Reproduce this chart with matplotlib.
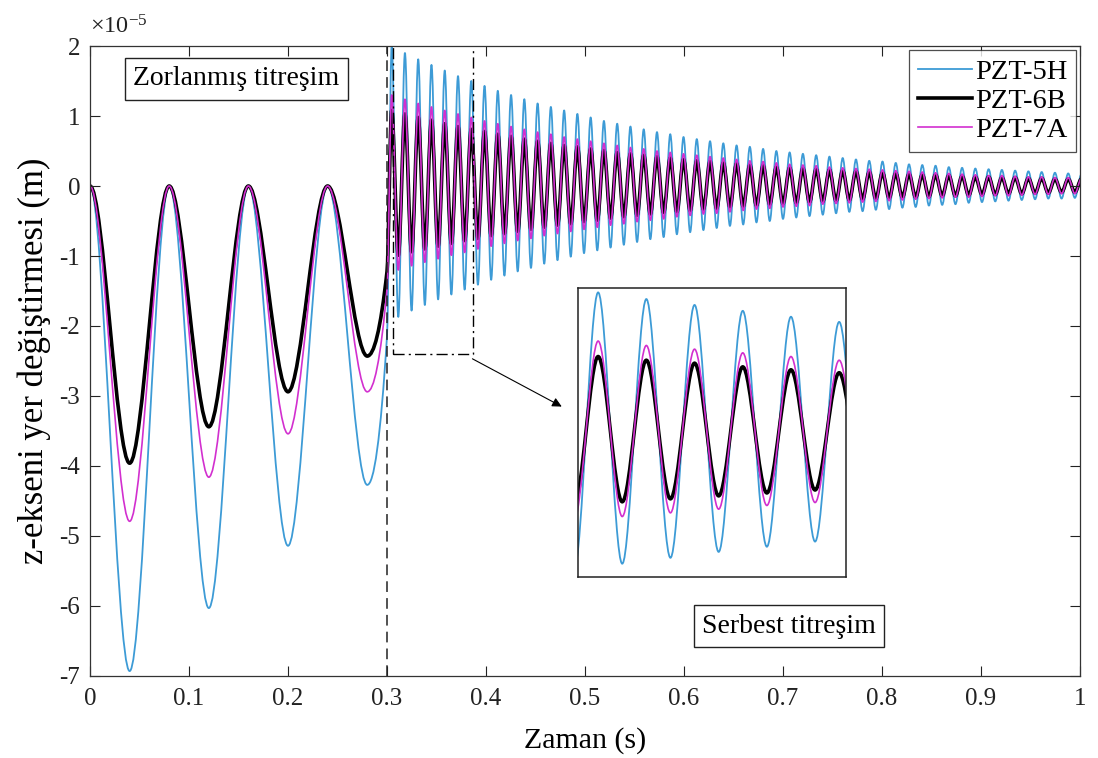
import numpy as np
import matplotlib
matplotlib.use('Agg')
import matplotlib.pyplot as plt
from matplotlib.path import Path
from matplotlib.patches import PathPatch, Rectangle
from matplotlib.lines import Line2D
from matplotlib.ticker import FuncFormatter

plt.rcParams['font.family'] = ['Liberation Serif', 'DejaVu Serif']
plt.rcParams['mathtext.fontset'] = 'custom'
plt.rcParams['mathtext.rm'] = 'Liberation Serif'
plt.rcParams['axes.unicode_minus'] = False

UNIT = 1e-5  # displacement values below are in 1e-5 m

# forced vibration: turning points (s, x1e-5 m), ends at t = 0.3 s
forced_t = [0.0, 0.04, 0.08, 0.12, 0.16, 0.20, 0.24, 0.28, 0.30]
forced_5h = [0, -6.93, 0, -6.03, 0, -5.14, 0, -4.27, -2.14]
forced_6b = [0, -3.96, 0, -3.44, 0, -2.94, 0, -2.43, -1.22]
forced_7a = [0, -4.79, 0, -4.16, 0, -3.54, 0, -2.94, -1.47]

# free vibration: successive crest / trough values
free_first_peak = 0.3047
free_period = 0.0134

peaks_5h = [1.99, 1.90, 1.81, 1.73, 1.65, 1.57, 1.50, 1.43, 1.36, 1.30,
            1.24, 1.18, 1.13, 1.08, 1.03, 0.98, 0.93, 0.89, 0.85, 0.81,
            0.77, 0.74, 0.70, 0.67, 0.64, 0.61, 0.58, 0.56, 0.53, 0.50,
            0.48, 0.46, 0.44, 0.42, 0.40, 0.38, 0.36, 0.35, 0.33, 0.31,
            0.30, 0.29, 0.27, 0.26, 0.25, 0.24, 0.23, 0.22, 0.21, 0.20,
            0.19, 0.18, 0.17]
troughs_5h = [-1.87, -1.78, -1.70, -1.62, -1.55, -1.48, -1.41, -1.34, -1.28, -1.22,
              -1.17, -1.11, -1.06, -1.01, -0.96, -0.92, -0.88, -0.84, -0.80, -0.76,
              -0.73, -0.69, -0.66, -0.63, -0.60, -0.57, -0.55, -0.52, -0.50, -0.47,
              -0.45, -0.43, -0.41, -0.39, -0.37, -0.36, -0.34, -0.33, -0.31, -0.30,
              -0.28, -0.27, -0.26, -0.24, -0.23, -0.22, -0.21, -0.20, -0.19, -0.18,
              -0.18, -0.17]

peaks_6b = [1.08, 1.03, 0.98, 0.94, 0.89, 0.85, 0.81, 0.78, 0.74, 0.71,
            0.67, 0.64, 0.61, 0.58, 0.56, 0.53, 0.51, 0.48, 0.46, 0.44,
            0.42, 0.40, 0.38, 0.36, 0.35, 0.33, 0.32, 0.30, 0.29, 0.27,
            0.26, 0.25, 0.24, 0.23, 0.22, 0.21, 0.20, 0.19, 0.18, 0.17,
            0.16, 0.16, 0.15, 0.14, 0.13, 0.13, 0.12, 0.12, 0.11, 0.11,
            0.10, 0.10, 0.10]
troughs_6b = [-0.99, -0.94, -0.90, -0.86, -0.82, -0.78, -0.75, -0.71, -0.68, -0.65,
              -0.62, -0.59, -0.56, -0.54, -0.51, -0.49, -0.46, -0.44, -0.42, -0.40,
              -0.38, -0.37, -0.35, -0.33, -0.32, -0.30, -0.29, -0.28, -0.26, -0.25,
              -0.24, -0.23, -0.22, -0.21, -0.20, -0.19, -0.18, -0.17, -0.16, -0.16,
              -0.15, -0.14, -0.14, -0.13, -0.12, -0.12, -0.11, -0.11, -0.10, -0.10,
              -0.09, -0.09]

peaks_7a = [1.30, 1.24, 1.18, 1.13, 1.08, 1.03, 0.98, 0.93, 0.89, 0.85,
            0.81, 0.77, 0.74, 0.70, 0.67, 0.64, 0.61, 0.58, 0.55, 0.53,
            0.50, 0.48, 0.46, 0.44, 0.42, 0.40, 0.38, 0.36, 0.35, 0.33,
            0.31, 0.30, 0.29, 0.27, 0.26, 0.25, 0.24, 0.23, 0.22, 0.21,
            0.20, 0.19, 0.18, 0.17, 0.16, 0.15, 0.15, 0.14, 0.13, 0.13,
            0.12, 0.12, 0.11]
troughs_7a = [-1.20, -1.14, -1.09, -1.04, -0.99, -0.95, -0.90, -0.86, -0.82, -0.78,
              -0.75, -0.71, -0.68, -0.65, -0.62, -0.59, -0.56, -0.54, -0.51, -0.49,
              -0.47, -0.44, -0.42, -0.40, -0.39, -0.37, -0.35, -0.33, -0.32, -0.30,
              -0.29, -0.28, -0.26, -0.25, -0.24, -0.23, -0.22, -0.21, -0.20, -0.19,
              -0.18, -0.17, -0.16, -0.16, -0.15, -0.14, -0.14, -0.13, -0.12, -0.12,
              -0.11, -0.11]

labels = ['PZT-5H', 'PZT-6B', 'PZT-7A']
colors = ['#3d9bd6', '#000000', '#d22fcf']
widths = [1.3, 2.6, 1.2]


def knots(forced_y, peaks, troughs):
    t_peak = free_first_peak + free_period * np.arange(len(peaks))
    t_trough = t_peak[:len(troughs)] + free_period / 2
    ft = np.empty(len(peaks) + len(troughs))
    fy = np.empty_like(ft)
    ft[0::2], ft[1::2] = t_peak, t_trough
    fy[0::2], fy[1::2] = peaks, troughs
    t = np.concatenate([forced_t, ft])
    y = np.concatenate([forced_y, fy]) * UNIT
    return t, y


def slopes(x, y):
    # monotone (Fritsch-Carlson) tangents, flat at turning points
    h = np.diff(x)
    d = np.diff(y) / h
    m = np.zeros_like(y)
    for i in range(1, len(y) - 1):
        if d[i - 1] * d[i] > 0:
            w1 = 2 * h[i] + h[i - 1]
            w2 = h[i] + 2 * h[i - 1]
            m[i] = (w1 + w2) / (w1 / d[i - 1] + w2 / d[i])
    return m


def curve_path(x, y):
    m = slopes(x, y)
    verts = [(x[0], y[0])]
    codes = [Path.MOVETO]
    for i in range(len(x) - 1):
        h = x[i + 1] - x[i]
        verts += [(x[i] + h / 3, y[i] + m[i] * h / 3),
                  (x[i + 1] - h / 3, y[i + 1] - m[i + 1] * h / 3),
                  (x[i + 1], y[i + 1])]
        codes += [Path.CURVE4] * 3
    return Path(verts, codes)


paths = [curve_path(*knots(f, p, q)) for f, p, q in
         [(forced_5h, peaks_5h, troughs_5h),
          (forced_6b, peaks_6b, troughs_6b),
          (forced_7a, peaks_7a, troughs_7a)]]

fig = plt.figure(figsize=(10.98, 7.58), dpi=100)
ax = fig.add_axes([0.082, 0.1082, 0.9016, 0.8311])

for p, c, w in zip(paths, colors, widths):
    ax.add_patch(PathPatch(p, fill=False, ec=c, lw=w, joinstyle='round'))

ax.set_xlim(0, 1)
ax.set_ylim(-7 * UNIT, 2 * UNIT)
ax.set_xticks(np.arange(0, 1.01, 0.1))
ax.set_yticks(np.arange(-7, 3) * UNIT)
ax.xaxis.set_major_formatter(FuncFormatter(lambda v, pos: '%g' % round(v, 2)))
ax.yaxis.set_major_formatter(FuncFormatter(lambda v, pos: '%g' % round(v / UNIT, 3)))
ax.text(0.0, 1.012, r'$\times\mathregular{10^{-5}}$', transform=ax.transAxes,
        fontsize=17.5, ha='left', va='bottom', color='#222222')

ax.tick_params(direction='in', top=True, right=True, length=7, width=0.8,
               labelsize=18, colors='#222222')
ax.tick_params(axis='x', pad=9)
ax.tick_params(axis='y', pad=7)
for s in ax.spines.values():
    s.set_linewidth(0.9)
    s.set_color('#333333')

ax.set_xlabel('Zaman (s)', fontsize=21.5, labelpad=12)
ax.set_ylabel('z-ekseni yer değiştirmesi (m)', fontsize=25, labelpad=6)

# boundary between forced and free response
ax.axvline(0.3, color='#222222', ls=(0, (7, 4)), lw=1.1)

# zoomed window and pointer to the inset
ax.add_patch(Rectangle((0.306, -2.4 * UNIT), 0.081, 4.43 * UNIT, fill=False,
                       ec='k', lw=1.0, ls=(0, (8, 3, 1.5, 3))))
ax.annotate('', xy=(0.479, -3.17 * UNIT), xytext=(0.3838, -2.45 * UNIT),
            arrowprops=dict(arrowstyle='-|>', color='k', lw=0.8,
                            mutation_scale=14))

box = dict(boxstyle='square,pad=0.3', fc='white', ec='#222222', lw=1.0)
ax.text(0.1475, 1.53 * UNIT, 'Zorlanmış titreşim', fontsize=20,
        ha='center', va='center', bbox=box)
ax.text(0.706, -6.29 * UNIT, 'Serbest titreşim', fontsize=20,
        ha='center', va='center', bbox=box)

handles = [Line2D([], [], color=c, lw=w) for c, w in zip(colors, widths)]
leg = ax.legend(handles, labels, loc='upper right', fontsize=20.5,
                frameon=True, fancybox=False, edgecolor='#222222',
                borderaxespad=0.15, borderpad=0.3, labelspacing=0.12,
                handlelength=1.9, handletextpad=0.1)
leg.get_frame().set_linewidth(0.9)

# inset: first cycles of the free vibration
axin = fig.add_axes([0.5264, 0.2388, 0.2441, 0.3813])
for p, c, w in zip(paths, colors, widths):
    axin.add_patch(PathPatch(p, fill=False, ec=c, lw=w, joinstyle='round'))
axin.set_xlim(0.3125, 0.387)
axin.set_ylim(-1.96 * UNIT, 1.96 * UNIT)
axin.set_xticks([])
axin.set_yticks([])
for s in axin.spines.values():
    s.set_linewidth(1.1)
    s.set_color('#222222')

fig.savefig('out.png', dpi=100)
